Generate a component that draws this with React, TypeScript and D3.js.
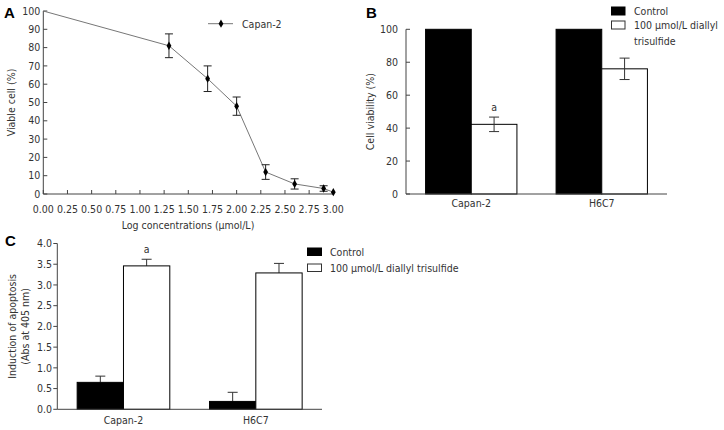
import React from "react";
import * as d3 from "d3";

// Panel A data
const logConc = [0, 1.3, 1.7, 2.0, 2.3, 2.6, 2.9, 3.0];
const viable = [100, 81, 63, 48, 12, 5.5, 3, 1];
const viableErr = [0, 6.5, 7, 5, 4, 2.8, 1.5, 0];
const xTicksA = [0, 0.25, 0.5, 0.75, 1, 1.25, 1.5, 1.75, 2, 2.25, 2.5, 2.75, 3];
const yTicksA = [0, 10, 20, 30, 40, 50, 60, 70, 80, 90, 100];

// Panels B & C data
const groups = ["Capan-2", "H6C7"];
const seriesNames = ["Control", "100 μmol/L diallyl trisulfide"];
const viabilityControl = [100, 100];
const viabilityControlErr = [0, 0];
const viabilityTreated = [42.3, 76];
const viabilityTreatedErr = [4.4, 6.5];
const viabilitySig = ["a", ""];
const yTicksB = [0, 20, 40, 60, 80, 100];

const apoptosisControl = [0.65, 0.19];
const apoptosisControlErr = [0.15, 0.22];
const apoptosisTreated = [3.46, 3.29];
const apoptosisTreatedErr = [0.16, 0.23];
const apoptosisSig = ["a", ""];
const yTicksC = [0, 0.5, 1, 1.5, 2, 2.5, 3, 3.5, 4];

const FONT = "'DejaVu Sans Condensed', 'DejaVu Sans', sans-serif";
const TXT = "#333";
const AX = "#444";

export default function App() {
  // Panel A scales
  const xA = d3.scaleLinear().domain([0, 3]).range([43.3, 333.3]);
  const yA = d3.scaleLinear().domain([0, 100]).range([194, 11]);
  const pts = logConc.map((x, i) => ({ x, y: viable[i], e: viableErr[i] }));
  const line = d3
    .line<{ x: number; y: number }>()
    .x((d) => xA(d.x))
    .y((d) => yA(d.y));
  const diamond = d3.symbol().type(d3.symbolDiamond).size(20)();

  // Panel B scales
  const xB = d3.scaleBand<string>().domain(groups).range([406, 667]).paddingInner(0.3).paddingOuter(0.15);
  const xBs = d3.scaleBand<string>().domain(seriesNames).range([0, xB.bandwidth()]);
  const yB = d3.scaleLinear().domain([0, 100]).range([194, 29.3]);

  // Panel C scales
  const xC = d3.scaleBand<string>().domain(groups).range([57.3, 322]).paddingInner(0.3).paddingOuter(0.15);
  const xCs = d3.scaleBand<string>().domain(seriesNames).range([0, xC.bandwidth()]);
  const yC = d3.scaleLinear().domain([0, 4]).range([409.3, 243.5]);

  const barsB = groups.flatMap((g, i) => [
    { g, s: seriesNames[0], v: viabilityControl[i], e: viabilityControlErr[i], fill: "#000", sig: "" },
    { g, s: seriesNames[1], v: viabilityTreated[i], e: viabilityTreatedErr[i], fill: "#fff", sig: viabilitySig[i] },
  ]);
  const barsC = groups.flatMap((g, i) => [
    { g, s: seriesNames[0], v: apoptosisControl[i], e: apoptosisControlErr[i], fill: "#000", sig: "" },
    { g, s: seriesNames[1], v: apoptosisTreated[i], e: apoptosisTreatedErr[i], fill: "#fff", sig: apoptosisSig[i] },
  ]);

  return (
    <svg
      width={724}
      height={430}
      style={{ position: "absolute", left: 0, top: 0, background: "#fff" }}
      fontFamily={FONT}
      fontSize={10.5}
    >
      <rect width={724} height={430} fill="#fff" />

      {/* ================= Panel A ================= */}
      <text x={4} y={18} fontSize={15} fontWeight="bold" fontFamily="'Liberation Sans', Arial, sans-serif" fill="#000">A</text>
      <line x1={xA(0)} x2={xA(0)} y1={yA(0)} y2={yA(100)} stroke={AX} />
      <line x1={xA(0)} x2={xA(3)} y1={yA(0)} y2={yA(0)} stroke={AX} />
      {yTicksA.map((t) => (
        <g key={"ya" + t}>
          <line x1={xA(0)} x2={xA(0) + 4} y1={yA(t)} y2={yA(t)} stroke={AX} />
          <text x={xA(0) - 3} y={yA(t)} dy="0.35em" textAnchor="end" fill={TXT}>{t}</text>
        </g>
      ))}
      {xTicksA.map((t) => (
        <g key={"xa" + t}>
          <line x1={xA(t)} x2={xA(t)} y1={yA(0)} y2={yA(0) - 4} stroke={AX} />
          <text x={xA(t)} y={213} textAnchor="middle" fill={TXT}>{t.toFixed(2)}</text>
        </g>
      ))}
      <text x={188} y={229} textAnchor="middle" fill={TXT}>Log concentrations (μmol/L)</text>
      <text transform={`translate(11,${(yA(0) + yA(100)) / 2}) rotate(-90)`} dy="0.35em" textAnchor="middle" fill={TXT}>Viable cell (%)</text>
      <path d={line(pts) || ""} fill="none" stroke="#777" strokeWidth={1} />
      {pts.filter((p) => p.e > 0).map((p, i) => (
        <g key={"ea" + i} stroke="#222" strokeWidth={1}>
          <line x1={xA(p.x)} x2={xA(p.x)} y1={yA(p.y - p.e)} y2={yA(p.y + p.e)} />
          <line x1={xA(p.x) - 4} x2={xA(p.x) + 4} y1={yA(p.y + p.e)} y2={yA(p.y + p.e)} />
          <line x1={xA(p.x) - 4} x2={xA(p.x) + 4} y1={yA(p.y - p.e)} y2={yA(p.y - p.e)} />
        </g>
      ))}
      {pts.filter((p) => p.x > 0).map((p, i) => (
        <path key={"pa" + i} d={diamond || ""} transform={`translate(${xA(p.x)},${yA(p.y)})`} fill="#000" />
      ))}
      {/* legend A */}
      <line x1={208} x2={233} y1={23.7} y2={23.7} stroke="#777" />
      <path d={diamond || ""} transform="translate(221,23.7)" fill="#000" />
      <text x={242} y={28} fill={TXT}>{groups[0]}</text>

      {/* ================= Panel B ================= */}
      <text x={366} y={18} fontSize={15} fontWeight="bold" fontFamily="'Liberation Sans', Arial, sans-serif" fill="#000">B</text>
      {barsB.map((b, i) => {
        const x = (xB(b.g) as number) + (xBs(b.s) as number);
        const w = xBs.bandwidth();
        const cx = x + w / 2;
        return (
          <g key={"bb" + i}>
            <rect x={x} y={yB(b.v)} width={w} height={yB(0) - yB(b.v)} fill={b.fill} stroke="#000" strokeWidth={1} />
            {b.e > 0 && (
              <g stroke="#333">
                <line x1={cx} x2={cx} y1={yB(b.v - b.e)} y2={yB(b.v + b.e)} />
                <line x1={cx - 5} x2={cx + 5} y1={yB(b.v + b.e)} y2={yB(b.v + b.e)} />
                <line x1={cx - 5} x2={cx + 5} y1={yB(b.v - b.e)} y2={yB(b.v - b.e)} />
              </g>
            )}
            {b.sig && (
              <text x={cx} y={yB(b.v + b.e) - 6} textAnchor="middle" fill={TXT}>{b.sig}</text>
            )}
          </g>
        );
      })}
      <line x1={406} x2={406} y1={yB(0)} y2={yB(100)} stroke={AX} />
      <line x1={406} x2={667} y1={yB(0)} y2={yB(0)} stroke={AX} />
      {yTicksB.map((t) => (
        <g key={"yb" + t}>
          <line x1={406} x2={410} y1={yB(t)} y2={yB(t)} stroke={AX} />
          <text x={398} y={yB(t)} dy="0.35em" textAnchor="end" fill={TXT}>{t}</text>
        </g>
      ))}
      {groups.map((g) => (
        <text key={"xb" + g} x={(xB(g) as number) + xB.bandwidth() / 2} y={207} textAnchor="middle" fill={TXT}>{g}</text>
      ))}
      <text transform={`translate(370,${(yB(0) + yB(100)) / 2}) rotate(-90)`} dy="0.35em" textAnchor="middle" fill={TXT}>Cell viability (%)</text>
      {/* legend B */}
      <rect x={611.5} y={7} width={13.5} height={8} fill="#000" stroke="#000" />
      <text x={634} y={14.5} fill={TXT}>{seriesNames[0]}</text>
      <rect x={611.5} y={21} width={13.5} height={8} fill="#fff" stroke="#333" />
      <text x={634} y={28.5} fill={TXT}>100 μmol/L diallyl</text>
      <text x={634} y={45} fill={TXT}>trisulfide</text>

      {/* ================= Panel C ================= */}
      <text x={5} y={246} fontSize={15} fontWeight="bold" fontFamily="'Liberation Sans', Arial, sans-serif" fill="#000">C</text>
      {barsC.map((b, i) => {
        const x = (xC(b.g) as number) + (xCs(b.s) as number);
        const w = xCs.bandwidth();
        const cx = x + w / 2;
        return (
          <g key={"bc" + i}>
            <g stroke="#333">
              <line x1={cx} x2={cx} y1={yC(b.v)} y2={yC(b.v + b.e)} />
              <line x1={cx - 5} x2={cx + 5} y1={yC(b.v + b.e)} y2={yC(b.v + b.e)} />
            </g>
            <rect x={x} y={yC(b.v)} width={w} height={yC(0) - yC(b.v)} fill={b.fill} stroke="#000" strokeWidth={1} />
            {b.sig && (
              <text x={cx} y={yC(b.v + b.e) - 6} textAnchor="middle" fill={TXT}>{b.sig}</text>
            )}
          </g>
        );
      })}
      <line x1={57.3} x2={57.3} y1={yC(0)} y2={yC(4)} stroke={AX} />
      <line x1={57.3} x2={322} y1={yC(0)} y2={yC(0)} stroke={AX} />
      {yTicksC.map((t) => (
        <g key={"yc" + t}>
          <line x1={53.3} x2={57.3} y1={yC(t)} y2={yC(t)} stroke={AX} />
          <text x={52} y={yC(t)} dy="0.35em" textAnchor="end" fill={TXT}>{t.toFixed(1)}</text>
        </g>
      ))}
      {groups.map((g) => (
        <text key={"xc" + g} x={(xC(g) as number) + xC.bandwidth() / 2} y={424} textAnchor="middle" fill={TXT}>{g}</text>
      ))}
      <text transform={`translate(12,${(yC(0) + yC(4)) / 2}) rotate(-90)`} dy="0.35em" textAnchor="middle" fill={TXT}>Induction of apoptosis</text>
      <text transform={`translate(25,${(yC(0) + yC(4)) / 2}) rotate(-90)`} dy="0.35em" textAnchor="middle" fill={TXT}>(Abs at 405 nm)</text>
      {/* legend C */}
      <rect x={307.5} y={248} width={14} height={7.5} fill="#000" stroke="#000" />
      <text x={330} y={256} fill={TXT}>{seriesNames[0]}</text>
      <rect x={307.5} y={264} width={14} height={7.5} fill="#fff" stroke="#333" />
      <text x={330} y={272} fill={TXT}>{seriesNames[1]}</text>
    </svg>
  );
}
